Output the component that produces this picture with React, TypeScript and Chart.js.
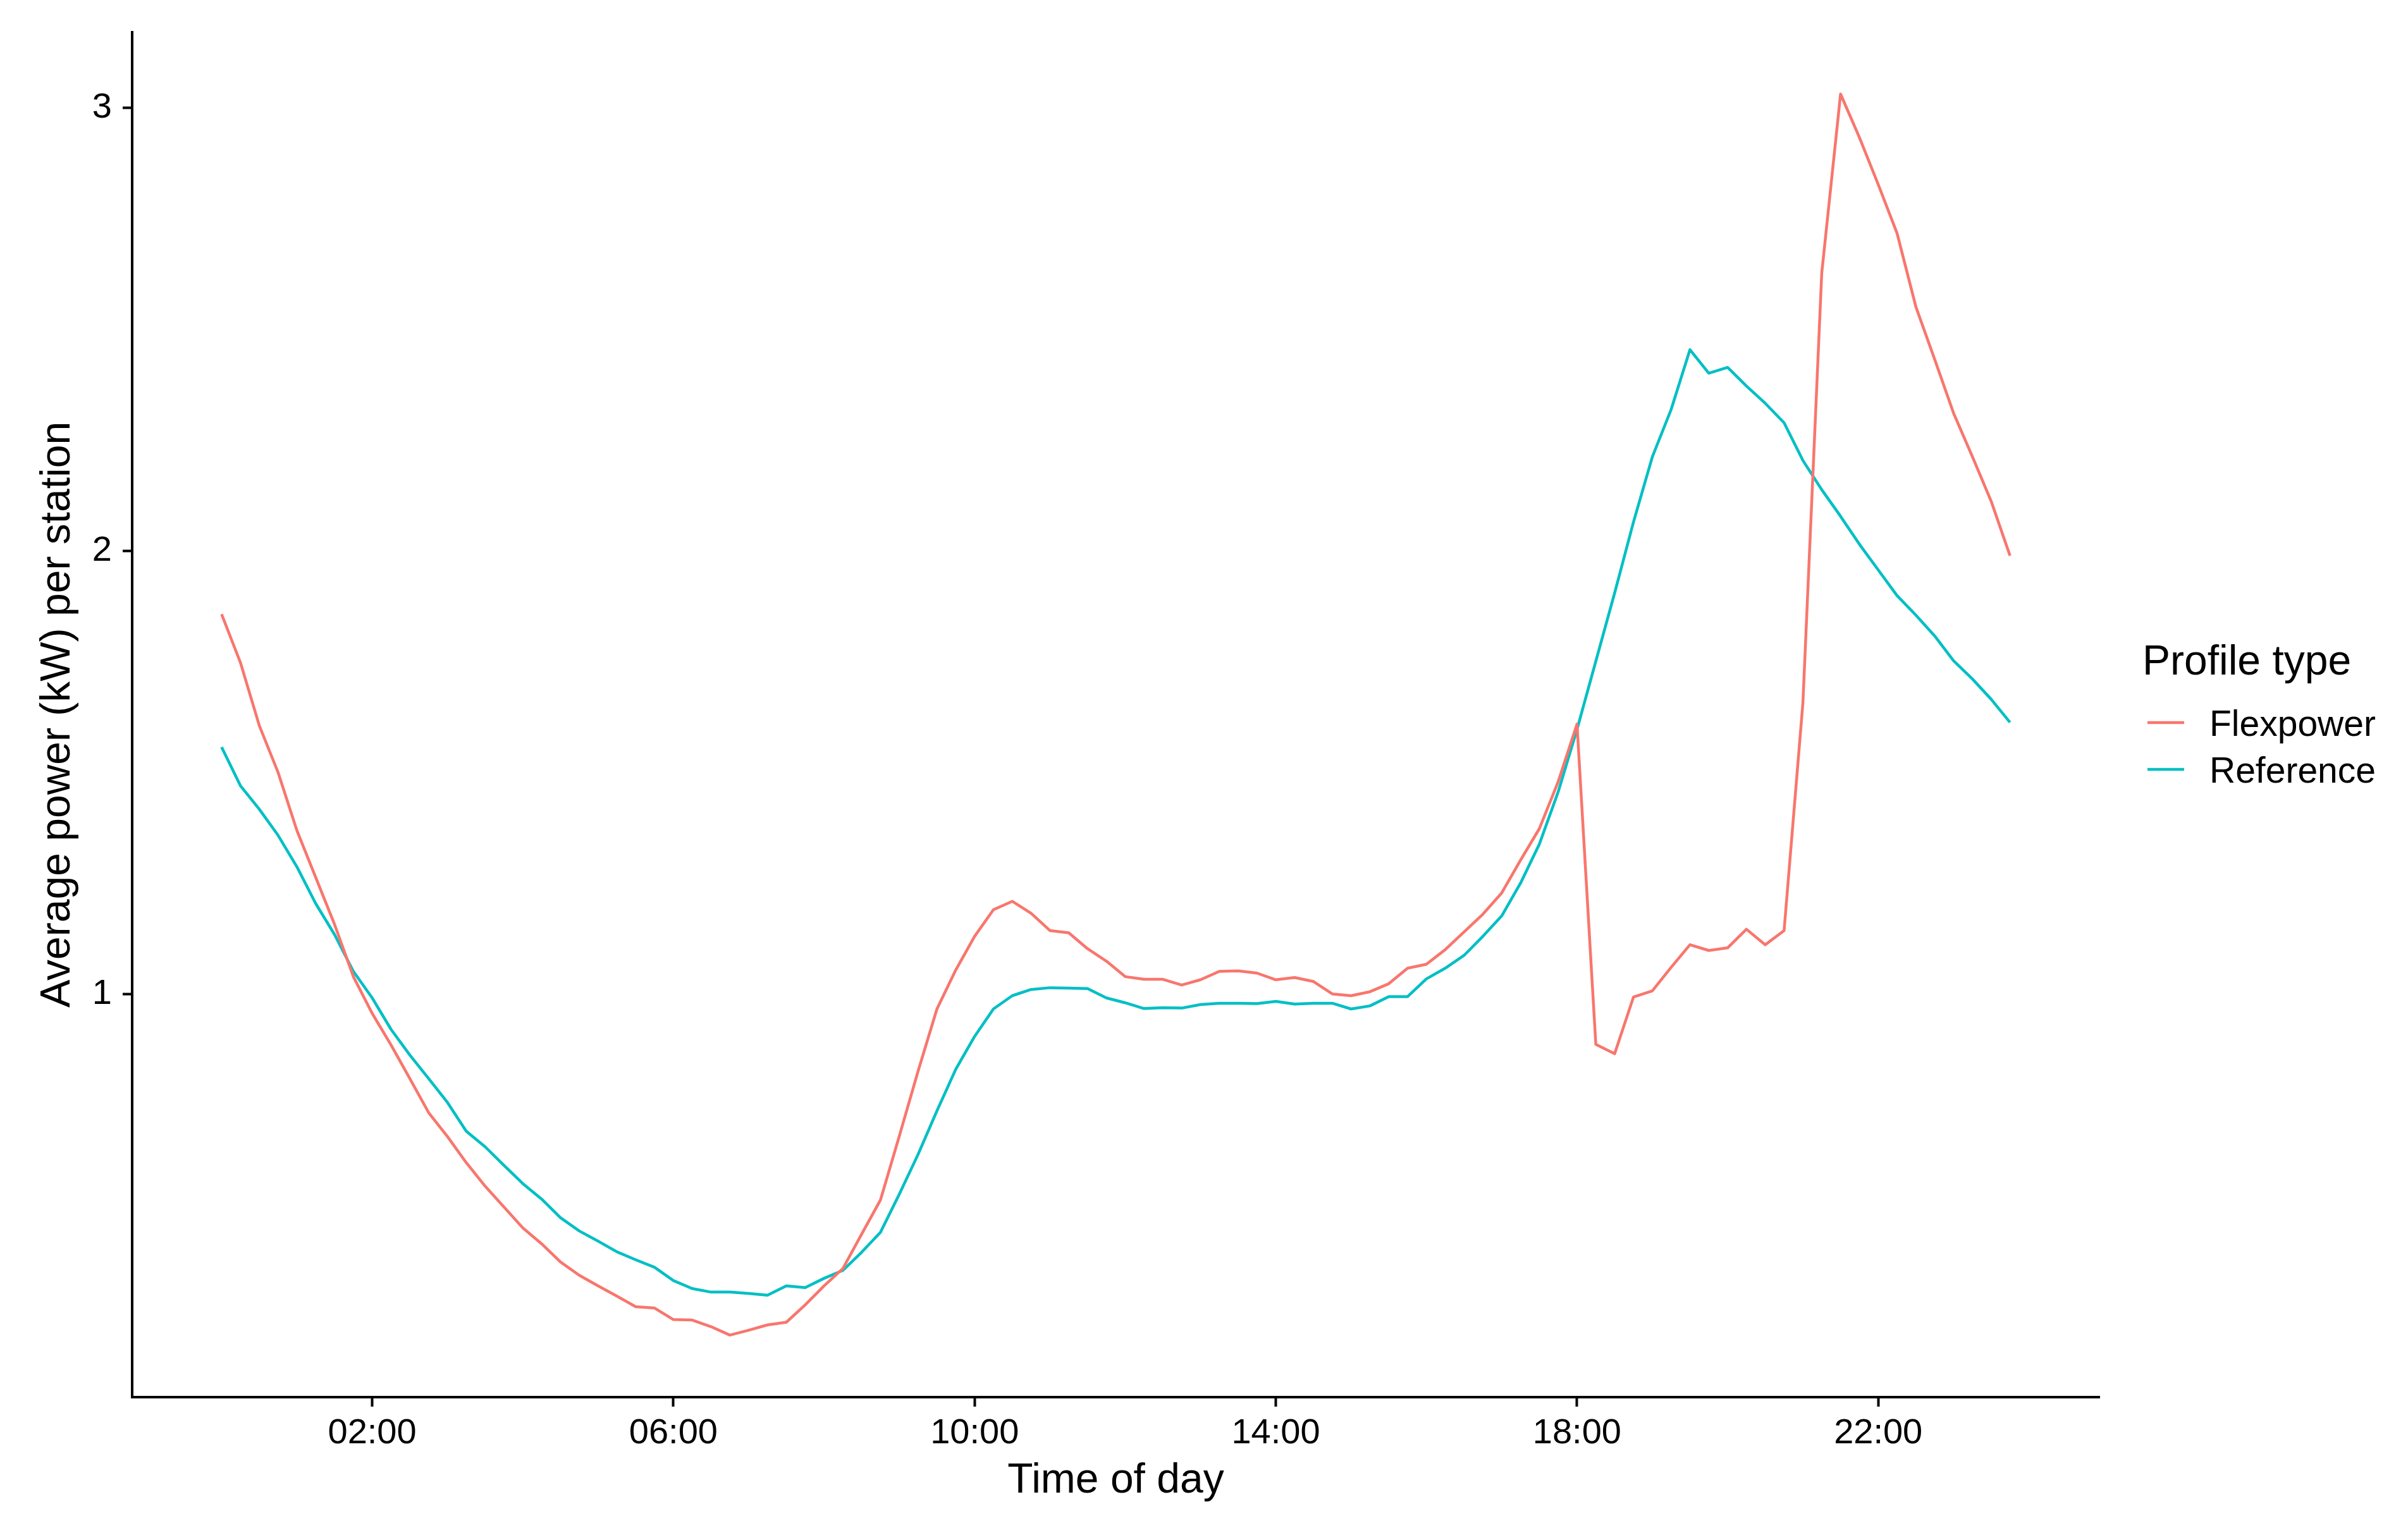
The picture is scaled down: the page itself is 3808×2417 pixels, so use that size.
import React, { useEffect, useRef } from "react";
import { Chart, registerables } from "chart.js";

Chart.register(...registerables);

const FONT = "'Liberation Sans', Arial, Helvetica, sans-serif";

// ---- data ----
const timeLabels = [
  "00:00", "00:15", "00:30", "00:45", "01:00", "01:15", "01:30", "01:45",
  "02:00", "02:15", "02:30", "02:45", "03:00", "03:15", "03:30", "03:45",
  "04:00", "04:15", "04:30", "04:45", "05:00", "05:15", "05:30", "05:45",
  "06:00", "06:15", "06:30", "06:45", "07:00", "07:15", "07:30", "07:45",
  "08:00", "08:15", "08:30", "08:45", "09:00", "09:15", "09:30", "09:45",
  "10:00", "10:15", "10:30", "10:45", "11:00", "11:15", "11:30", "11:45",
  "12:00", "12:15", "12:30", "12:45", "13:00", "13:15", "13:30", "13:45",
  "14:00", "14:15", "14:30", "14:45", "15:00", "15:15", "15:30", "15:45",
  "16:00", "16:15", "16:30", "16:45", "17:00", "17:15", "17:30", "17:45",
  "18:00", "18:15", "18:30", "18:45", "19:00", "19:15", "19:30", "19:45",
  "20:00", "20:15", "20:30", "20:45", "21:00", "21:15", "21:30", "21:45",
  "22:00", "22:15", "22:30", "22:45", "23:00", "23:15", "23:30", "23:45",
];

const flexpower = [
  1.857, 1.748, 1.606, 1.5, 1.369, 1.263, 1.157, 1.039,
  0.956, 0.885, 0.809, 0.732, 0.678, 0.619, 0.566, 0.519,
  0.472, 0.436, 0.395, 0.365, 0.341, 0.318, 0.294, 0.291,
  0.265, 0.264, 0.249, 0.23, 0.241, 0.253, 0.259, 0.298,
  0.341, 0.38, 0.458, 0.535, 0.679, 0.826, 0.966, 1.054,
  1.13, 1.19, 1.209, 1.182, 1.143, 1.138, 1.102, 1.074,
  1.039, 1.033, 1.033, 1.02, 1.032, 1.051, 1.052, 1.047,
  1.032, 1.037, 1.028, 1.0, 0.996, 1.005, 1.023, 1.058,
  1.067, 1.1, 1.14, 1.18, 1.228, 1.302, 1.373, 1.479,
  1.609, 0.886, 0.865, 0.993, 1.007, 1.06, 1.111, 1.098,
  1.104, 1.146, 1.111, 1.143, 1.657, 2.627, 3.031, 2.933,
  2.827, 2.717, 2.551, 2.432, 2.311, 2.213, 2.112, 1.989,
];

const reference = [
  1.557, 1.47, 1.417, 1.358, 1.287, 1.204, 1.134, 1.051,
  0.991, 0.92, 0.862, 0.809, 0.755, 0.69, 0.655, 0.613,
  0.572, 0.537, 0.495, 0.465, 0.442, 0.418, 0.4, 0.383,
  0.353, 0.335, 0.327, 0.327, 0.324, 0.32, 0.341, 0.337,
  0.358, 0.376, 0.417, 0.462, 0.548, 0.638, 0.736, 0.83,
  0.904, 0.966, 0.996, 1.01, 1.014, 1.013, 1.012, 0.991,
  0.98, 0.967, 0.969, 0.968, 0.976, 0.979, 0.979, 0.978,
  0.983, 0.977, 0.979, 0.979, 0.966, 0.973, 0.994, 0.994,
  1.034, 1.058, 1.087, 1.13, 1.176, 1.25, 1.338, 1.456,
  1.597, 1.751, 1.905, 2.065, 2.212, 2.319, 2.454, 2.401,
  2.414, 2.372, 2.333, 2.289, 2.204, 2.138, 2.078, 2.015,
  1.957, 1.899, 1.855, 1.808, 1.752, 1.711, 1.665, 1.613,
];

const seriesNames = ["Flexpower", "Reference"];
const seriesColors = ["#F8766D", "#00BFC4"];
const xTickLabels = ["02:00", "06:00", "10:00", "14:00", "18:00", "22:00"];
const yTickValues = [1, 2, 3];
const xAxisTitle = "Time of day";
const yAxisTitle = "Average power (kW) per station";
const legendTitle = "Profile type";

// ---- helpers ----
const toHours = (t: string) => {
  const [h, m] = t.split(":").map(Number);
  return h + m / 60;
};

const TITLE_SIZE = 66;
const TICK_SIZE = 56;
const LEGEND_TEXT_SIZE = 57;

const legendPlugin = {
  id: "ggLegend",
  afterDraw(chart: any) {
    const { ctx, chartArea } = chart;
    const x0 = chartArea.right + 68;
    ctx.save();
    ctx.fillStyle = "#000";
    ctx.textAlign = "left";
    ctx.textBaseline = "alphabetic";
    ctx.font = `${TITLE_SIZE}px ${FONT}`;
    ctx.fillText(legendTitle, x0, 1067);
    ctx.font = `${LEGEND_TEXT_SIZE}px ${FONT}`;
    chart.data.datasets.forEach((ds: any, i: number) => {
      const yc = 1143 + i * 74;
      ctx.strokeStyle = ds.borderColor;
      ctx.lineWidth = 4.5;
      ctx.lineCap = "butt";
      ctx.beginPath();
      ctx.moveTo(x0 + 8, yc);
      ctx.lineTo(x0 + 66, yc);
      ctx.stroke();
      ctx.fillStyle = "#000";
      ctx.fillText(ds.label, x0 + 106, yc + 21);
    });
    ctx.restore();
  },
};

export default function App() {
  const canvasRef = useRef<HTMLCanvasElement | null>(null);

  useEffect(() => {
    const canvas = canvasRef.current;
    if (!canvas) return;
    const xs = timeLabels.map(toHours);
    const xMin0 = Math.min(...xs);
    const xMax0 = Math.max(...xs);
    const xPad = (xMax0 - xMin0) * 0.05;
    const allY = [...flexpower, ...reference];
    const yMin0 = Math.min(...allY);
    const yMax0 = Math.max(...allY);
    const yPad = (yMax0 - yMin0) * 0.05;
    const series = [flexpower, reference];

    const chart = new Chart(canvas, {
      type: "line",
      data: {
        datasets: seriesNames.map((name, i) => ({
          label: name,
          data: timeLabels.map((t, j) => ({ x: toHours(t), y: series[i][j] })),
          borderColor: seriesColors[i],
          backgroundColor: seriesColors[i],
          borderWidth: 4.5,
          borderJoinStyle: "round" as const,
          pointRadius: 0,
          tension: 0,
          fill: false,
        })),
      },
      options: {
        animation: false,
        responsive: false,
        devicePixelRatio: 1,
        layout: { padding: { left: 0, top: 49, right: 488, bottom: 0 } },
        plugins: { legend: { display: false }, tooltip: { enabled: false } },
        scales: {
          x: {
            type: "linear",
            min: xMin0 - xPad,
            max: xMax0 + xPad,
            afterBuildTicks: (s: any) => {
              s.ticks = xTickLabels.map((l) => ({ value: toHours(l) }));
            },
            afterFit: (s: any) => {
              s.height = 207;
            },
            ticks: {
              autoSkip: false,
              maxRotation: 0,
              minRotation: 0,
              padding: 9,
              color: "#000",
              font: { family: FONT, size: TICK_SIZE },
              callback: (_v: any, i: number) => xTickLabels[i],
            },
            grid: {
              display: true,
              drawOnChartArea: false,
              drawTicks: true,
              tickLength: 15,
              tickWidth: 4,
              tickColor: "#000",
            },
            border: { display: true, color: "#000", width: 4 },
            title: {
              display: true,
              text: xAxisTitle,
              color: "#000",
              font: { family: FONT, size: TITLE_SIZE },
              padding: { top: 0, bottom: 35 },
            },
          },
          y: {
            type: "linear",
            min: yMin0 - yPad,
            max: yMax0 + yPad,
            afterBuildTicks: (s: any) => {
              s.ticks = yTickValues.map((v) => ({ value: v }));
            },
            afterFit: (s: any) => {
              s.width = 209;
            },
            ticks: {
              padding: 17,
              color: "#000",
              font: { family: FONT, size: TICK_SIZE },
              callback: (v: any) => String(v),
            },
            grid: {
              display: true,
              drawOnChartArea: false,
              drawTicks: true,
              tickLength: 15,
              tickWidth: 4,
              tickColor: "#000",
            },
            border: { display: true, color: "#000", width: 4 },
            title: {
              display: true,
              text: yAxisTitle,
              color: "#000",
              font: { family: FONT, size: TITLE_SIZE },
              padding: { top: 52, bottom: 0 },
            },
          },
        },
      },
      plugins: [legendPlugin],
    });

    return () => {
      chart.destroy();
    };
  }, []);

  return (
    <div
      style={{
        position: "absolute",
        left: 0,
        top: 0,
        width: "3808px",
        height: "2417px",
        background: "#fff",
      }}
    >
      <canvas
        ref={canvasRef}
        width={3808}
        height={2417}
        style={{ display: "block", width: "3808px", height: "2417px" }}
      />
    </div>
  );
}
